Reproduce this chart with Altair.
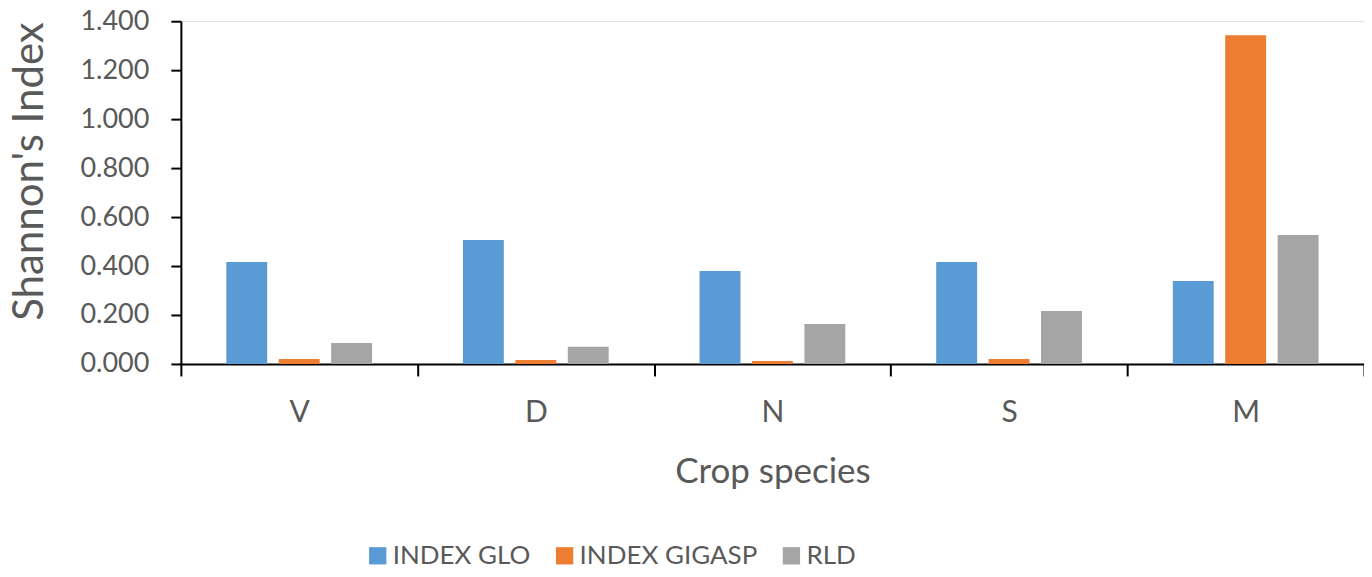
import altair as alt
import pandas as pd

categories = ["V", "D", "N", "S", "M"]
series_names = ["INDEX GLO", "INDEX GIGASP", "RLD"]
index_glo = [0.416, 0.506, 0.380, 0.416, 0.339]
index_gigasp = [0.020, 0.016, 0.012, 0.020, 1.343]
rld = [0.086, 0.070, 0.163, 0.216, 0.527]
colors = ["#5B9BD5", "#ED7D31", "#A5A5A5"]
y_ticks = [0.0, 0.2, 0.4, 0.6, 0.8, 1.0, 1.2, 1.4]

rows = []
for i, c in enumerate(categories):
    for s, vals in zip(series_names, [index_glo, index_gigasp, rld]):
        rows.append({"crop": c, "series": s, "value": vals[i]})
df = pd.DataFrame(rows)

FONT = "Lato"
GREY = "#595959"

chart = alt.Chart(df).mark_bar().encode(
    x=alt.X("crop:N", sort=categories, title="Crop species",
            scale=alt.Scale(paddingInner=0, paddingOuter=0),
            axis=alt.Axis(labelAngle=0, labelFontSize=30, labelColor=GREY,
                          labelBaseline="alphabetic", labelPadding=46,
                          titleFontSize=35, titleColor=GREY,
                          titleFontWeight="normal", titleBaseline="alphabetic",
                          titleY=119,
                          domainColor="black", domainWidth=2, tickColor="black",
                          tickWidth=2, tickSize=12, tickBand="extent")),
    xOffset=alt.XOffset("series:N", sort=series_names,
                        scale=alt.Scale(paddingInner=0.22, paddingOuter=0.867)),
    y=alt.Y("value:Q", title="Shannon's Index",
            scale=alt.Scale(domain=[0, 1.4], nice=False),
            axis=alt.Axis(values=y_ticks, format=".3f", grid=False,
                          labelFontSize=27, labelColor=GREY, labelPadding=22,
                          titleFontSize=42, titleColor=GREY, titleFontWeight="normal",
                          titleX=-151, titleY=150, titleBaseline="middle",
                          titleAlign="center", titleAngle=-90,
                          domainColor="black", domainWidth=2, tickColor="black",
                          tickWidth=2, tickSize=10)),
    color=alt.Color("series:N", sort=series_names,
                    scale=alt.Scale(domain=series_names, range=colors),
                    legend=alt.Legend(title=None, orient="none", direction="horizontal",
                                      legendX=184, legendY=522, symbolType="square",
                                      symbolSize=300, symbolStrokeWidth=0,
                                      labelFontSize=26, labelColor=GREY,
                                      labelOffset=2, columnPadding=21, labelLimit=400)),
).properties(
    width=1184, height=343,
    autosize=alt.AutoSizeParams(type="none"),
    padding={"left": 173, "top": 13, "right": 0, "bottom": 205},
).configure_view(stroke=None).configure(font=FONT)

chart.save("out.html", embed_options={"renderer": "svg", "actions": False})
